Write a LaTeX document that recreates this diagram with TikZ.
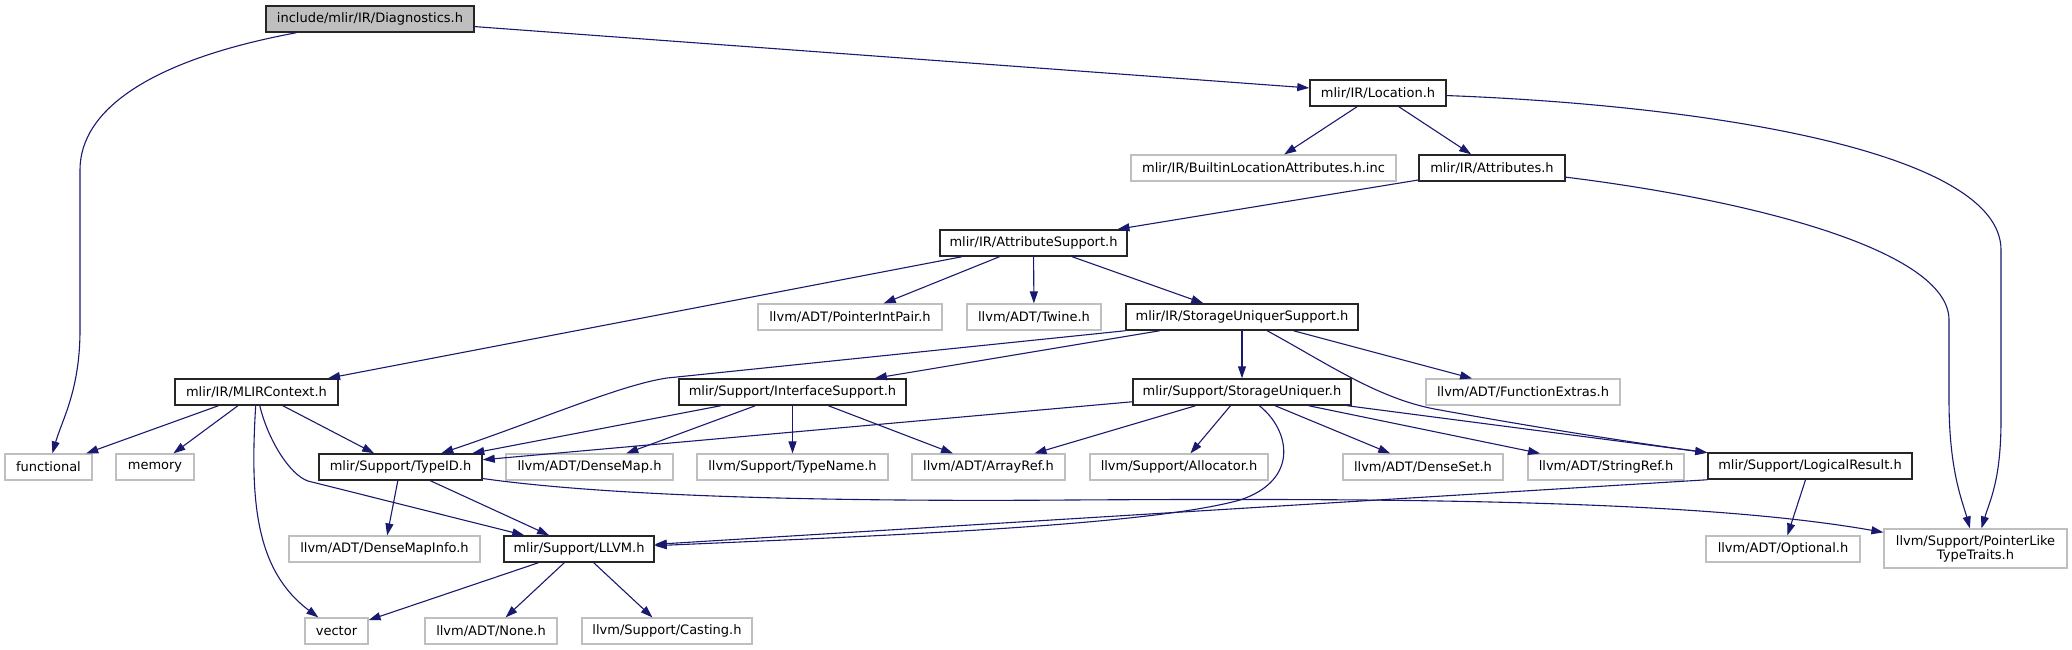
\documentclass[tikz,border=0pt]{standalone}
\usepackage{fontspec}
\setmainfont{DejaVu Sans}
\usetikzlibrary{arrows.meta}
\definecolor{edgeblue}{RGB}{25,25,112}
\definecolor{extgray}{RGB}{191,191,191}
\tikzset{
  inc/.style={draw=black!85, line width=1.5pt, fill=white, inner sep=0pt, minimum height=26pt},
  ext/.style={draw=extgray, line width=1.2pt, fill=white, inner sep=0pt, minimum height=26pt},
  root/.style={inc, fill=extgray},
  edge/.style={draw=edgeblue, line width=1.1pt, -{Triangle[length=12pt,width=8pt]}}
}
\begin{document}
\begin{tikzpicture}[x=1pt,y=-1pt,font=\fontsize{13}{14}\selectfont]
        \useasboundingbox (0,0) rectangle (2072,649);
        % files
        \node[root, minimum width=208] (diag) at (370,19) {include/mlir/IR/Diagnostics.h};
        \node[inc, minimum width=136] (loc) at (1378,93) {mlir/IR/Location.h};
        \node[ext, minimum width=265] (builtin) at (1263.5,168) {mlir/IR/BuiltinLocationAttributes.h.inc};
        \node[inc, minimum width=146] (attrs) at (1492,168) {mlir/IR/Attributes.h};
        \node[inc, minimum width=187] (attrsup) at (1033.5,243) {mlir/IR/AttributeSupport.h};
        \node[ext, minimum width=184] (ptrint) at (850,317) {llvm/ADT/PointerIntPair.h};
        \node[ext, minimum width=134] (twine) at (1034,317) {llvm/ADT/Twine.h};
        \node[inc, minimum width=232] (susup) at (1242,317) {mlir/IR/StorageUniquerSupport.h};
        \node[inc, minimum width=163] (mlirctx) at (256.5,392) {mlir/IR/MLIRContext.h};
        \node[inc, minimum width=227] (iface) at (792.5,392) {mlir/Support/InterfaceSupport.h};
        \node[inc, minimum width=218] (suniq) at (1242,392) {mlir/Support/StorageUniquer.h};
        \node[ext, minimum width=194] (fextras) at (1523,392) {llvm/ADT/FunctionExtras.h};
        \node[ext, minimum width=87] (functional) at (48.5,467) {functional};
        \node[ext, minimum width=78] (memory) at (155,467) {memory};
        \node[inc, minimum width=163] (typeid) at (400.5,467) {mlir/Support/TypeID.h};
        \node[ext, minimum width=167] (densemap) at (589.5,467) {llvm/ADT/DenseMap.h};
        \node[ext, minimum width=191] (typename) at (792.5,467) {llvm/Support/TypeName.h};
        \node[ext, minimum width=153] (arrayref) at (988.5,467) {llvm/ADT/ArrayRef.h};
        \node[ext, minimum width=178] (allocator) at (1179,467) {llvm/Support/Allocator.h};
        \node[ext, minimum width=160] (denseset) at (1423,467) {llvm/ADT/DenseSet.h};
        \node[ext, minimum width=156] (stringref) at (1606,467) {llvm/ADT/StringRef.h};
        \node[inc, minimum width=204] (logres) at (1810,466) {mlir/Support/LogicalResult.h};
        \node[ext, minimum width=191] (densemapinfo) at (384.5,549) {llvm/ADT/DenseMapInfo.h};
        \node[inc, minimum width=150] (llvm) at (579,549) {mlir/Support/LLVM.h};
        \node[ext, minimum width=154] (optional) at (1783,549) {llvm/ADT/Optional.h};
        \node[ext, minimum width=183, minimum height=39, align=center] (ptrlike) at (1975.5,548.5) {llvm/Support/PointerLike\\TypeTraits.h};
        \node[ext, minimum width=63] (vector) at (336.5,631) {vector};
        \node[ext, minimum width=132] (none) at (491,631) {llvm/ADT/None.h};
        \node[ext, minimum width=170] (casting) at (667,631) {llvm/Support/Casting.h};
        % includes
        \draw[edge] (diag) .. controls (150,60) and (80,110) .. (80,170) -- (80,330) .. controls (80,390) and (62,420) .. (functional);
        \draw[edge] (diag) -- (loc);
        \draw[edge] (loc) -- (builtin);
        \draw[edge] (loc) -- (attrs);
        \draw[edge] (loc) .. controls (1700,105) and (2001,150) .. (2001,250) -- (2001,420) .. controls (2001,480) and (1990,500) .. (ptrlike);
        \draw[edge] (attrs) -- (attrsup);
        \draw[edge] (attrs) .. controls (1750,200) and (1949,250) .. (1949,320) -- (1949,400) .. controls (1949,470) and (1962,500) .. (ptrlike);
        \draw[edge] (attrsup) -- (mlirctx);
        \draw[edge] (attrsup) -- (ptrint);
        \draw[edge] (attrsup) -- (twine);
        \draw[edge] (attrsup) -- (susup);
        \draw[edge] (susup.south west) -- (667,378) .. controls (620,385) and (540,420) .. (typeid);
        \draw[edge] (susup) -- (iface);
        \draw[edge] (susup) -- (suniq);
        \draw[edge] (susup) .. controls (1330,365) and (1380,400) .. (1440,410) .. controls (1550,430) and (1650,445) .. (logres);
        \draw[edge] (susup) -- (fextras);
        \draw[edge] (mlirctx) -- (functional);
        \draw[edge] (mlirctx) -- (memory);
        \draw[edge] (mlirctx) -- (typeid);
        \draw[edge] (mlirctx) .. controls (268,440) and (290,475) .. (308,481) -- (llvm);
        \draw[edge] (mlirctx) .. controls (250,500) and (255,570) .. (vector);
        \draw[edge] (iface) -- (typeid);
        \draw[edge] (iface) -- (densemap);
        \draw[edge] (iface) -- (typename);
        \draw[edge] (iface) -- (arrayref);
        \draw[edge] (suniq) -- (typeid);
        \draw[edge] (suniq) -- (arrayref);
        \draw[edge] (suniq) -- (allocator);
        \draw[edge] (suniq) .. controls (1290,430) and (1300,480) .. (1240,500) .. controls (1150,525) and (900,535) .. (llvm);
        \draw[edge] (suniq) -- (denseset);
        \draw[edge] (suniq) -- (stringref);
        \draw[edge] (suniq) -- (logres);
        \draw[edge] (typeid) -- (densemapinfo);
        \draw[edge] (typeid) -- (llvm);
        \draw[edge] (typeid) .. controls (600,495) and (800,502) .. (1070,500) .. controls (1400,498) and (1700,500) .. (ptrlike);
        \draw[edge] (logres.south west) -- (llvm);
        \draw[edge] (logres) -- (optional);
        \draw[edge] (llvm) -- (vector);
        \draw[edge] (llvm) -- (none);
        \draw[edge] (llvm) -- (casting);
\end{tikzpicture}
\end{document}
